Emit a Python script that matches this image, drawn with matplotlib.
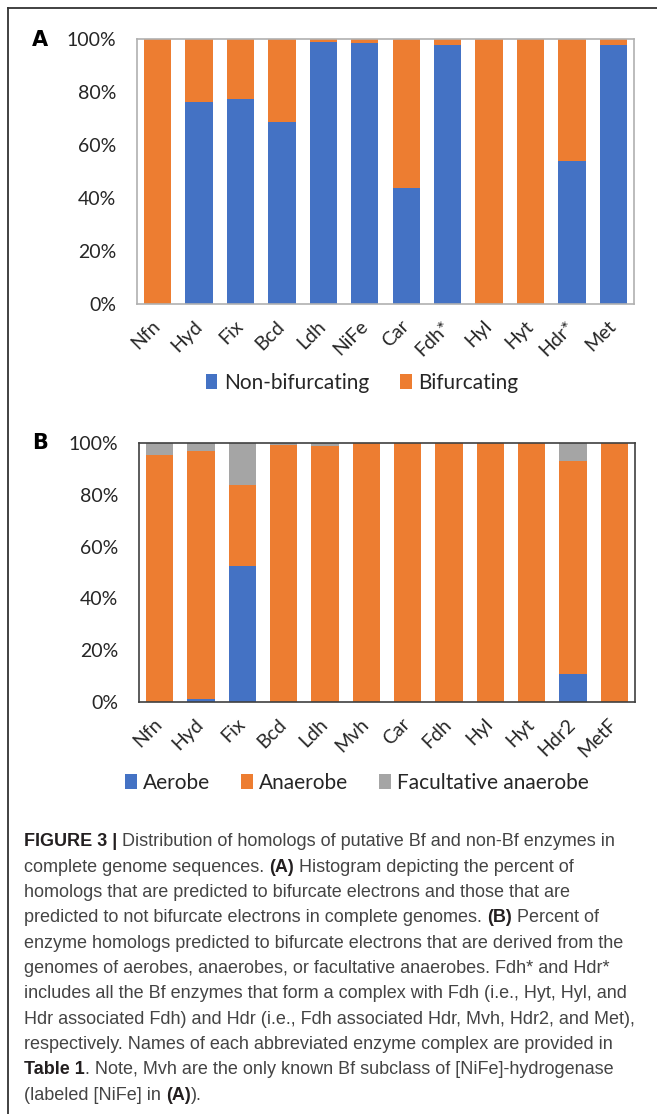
import matplotlib
matplotlib.use("Agg")
import matplotlib.pyplot as plt
from matplotlib.lines import Line2D
import numpy as np

# panel A: percent of homologs predicted (non-)bifurcating
enz_a = ['Nfn', 'Hyd', 'Fix', 'Bcd', 'Ldh', 'NiFe', 'Car', 'Fdh*', 'Hyl', 'Hyt', 'Hdr*', 'Met']
non_bif = [0, 76.2, 77.3, 68.5, 99.0, 98.6, 43.7, 97.9, 0, 0, 54.0, 97.6]
bif = [100 - v for v in non_bif]

# panel B: lifestyle of the source genomes of Bf homologs
enz_b = ['Nfn', 'Hyd', 'Fix', 'Bcd', 'Ldh', 'Mvh', 'Car', 'Fdh', 'Hyl', 'Hyt', 'Hdr2', 'MetF']
aerobe = [0, 1.0, 52.6, 0, 0, 0, 0, 0, 0, 0, 11.0, 0]
anaerobe = [95.4, 95.8, 31.1, 99.1, 98.7, 100, 100, 100, 100, 100, 82.2, 100]
facult = [4.6, 3.2, 16.3, 0.9, 1.3, 0, 0, 0, 0, 0, 6.8, 0]

BLUE = '#4472C4'
ORANGE = '#ED7D31'
GRAY = '#A5A5A5'

plt.rcParams['font.family'] = ['Lato', 'DejaVu Sans']

W, H = 657, 1114
fig = plt.figure(figsize=(W / 100, H / 100), dpi=100)


def box(l, t, r, b):
    return [l / W, 1 - b / H, (r - l) / W, (b - t) / H]


def style_axes(ax, labels, edge):
    ax.set_xlim(-0.5, len(labels) - 0.5)
    ax.set_ylim(0, 100)
    ax.set_yticks(range(0, 101, 20))
    ax.set_yticklabels(['%d%%' % v for v in range(0, 101, 20)], fontsize=14, color='#262626')
    ax.set_xticks(range(len(labels)))
    ax.set_xticklabels(labels, rotation=45, ha='right', va='center',
                       rotation_mode='anchor', fontsize=14, color='#262626')
    ax.tick_params(length=0)
    ax.tick_params(axis='y', pad=15)
    ax.tick_params(axis='x', pad=14)
    for s in ax.spines.values():
        s.set_color(edge)
        s.set_linewidth(1.2)


def add_legend(ax, ncol, cx, cy):
    ax.legend(loc='center', bbox_to_anchor=(cx, cy), ncol=ncol,
              frameon=False, fontsize=15, handlelength=0.55, handleheight=0.75,
              handletextpad=0.3, columnspacing=1.5, labelcolor='#262626')


x = np.arange(len(enz_a))
bw = 0.66

axA = fig.add_axes(box(137, 39, 634, 304))
axA.bar(x, non_bif, bw, color=BLUE, label='Non-bifurcating')
axA.bar(x, bif, bw, bottom=non_bif, color=ORANGE, label='Bifurcating')
style_axes(axA, enz_a, '#B0B0B0')
add_legend(axA, 2, (362 - 137) / 497.0, 1 - (383 - 39) / 265.0)

axB = fig.add_axes(box(139, 443, 635, 702))
bottom2 = [a + b for a, b in zip(aerobe, anaerobe)]
axB.bar(x, aerobe, bw, color=BLUE, label='Aerobe')
axB.bar(x, anaerobe, bw, bottom=aerobe, color=ORANGE, label='Anaerobe')
axB.bar(x, facult, bw, bottom=bottom2, color=GRAY, label='Facultative anaerobe')
style_axes(axB, enz_b, '#404040')
add_legend(axB, 3, (357 - 139) / 496.0, 1 - (783 - 443) / 259.0)

fig.text(40 / W, 1 - 40 / H, 'A', fontsize=15, fontweight='bold', ha='center', va='center',
         family='DejaVu Sans')
fig.text(40 / W, 1 - 443 / H, 'B', fontsize=15, fontweight='bold', ha='center', va='center',
         family='DejaVu Sans')

# page frame
fig.add_artist(Line2D([8 / W, 8 / W], [0, 1 - 8 / H], color='#333333', lw=1.3))
fig.add_artist(Line2D([8 / W, 1], [1 - 8 / H, 1 - 8 / H], color='#333333', lw=1.3))

# caption, built from normal/bold runs per line
caption = [
    [('FIGURE 3 | ', True), ('Distribution of homologs of putative Bf and non-Bf enzymes in', False)],
    [('complete genome sequences. ', False), ('(A)', True), (' Histogram depicting the percent of', False)],
    [('homologs that are predicted to bifurcate electrons and those that are', False)],
    [('predicted to not bifurcate electrons in complete genomes. ', False), ('(B)', True), (' Percent of', False)],
    [('enzyme homologs predicted to bifurcate electrons that are derived from the', False)],
    [('genomes of aerobes, anaerobes, or facultative anaerobes. Fdh* and Hdr*', False)],
    [('includes all the Bf enzymes that form a complex with Fdh (i.e., Hyt, Hyl, and', False)],
    [('Hdr associated Fdh) and Hdr (i.e., Fdh associated Hdr, Mvh, Hdr2, and Met),', False)],
    [('respectively. Names of each abbreviated enzyme complex are provided in', False)],
    [('Table 1', True), ('. Note, Mvh are the only known Bf subclass of [NiFe]-hydrogenase', False)],
    [('(labeled [NiFe] in ', False), ('(A)', True), (').', False)],
]
renderer = fig.canvas.get_renderer()
y0 = 842
for i, line in enumerate(caption):
    xp = 24
    yp = 1 - (y0 + i * 25.3) / H
    for txt, bold in line:
        t = fig.text(xp / W, yp, txt, fontsize=13, family='Liberation Sans',
                     fontweight='bold' if bold else 'normal', color='#231F20' if bold else '#444444',
                     va='center', ha='left')
        xp += t.get_window_extent(renderer).width

fig.savefig('out.png', dpi=100)
